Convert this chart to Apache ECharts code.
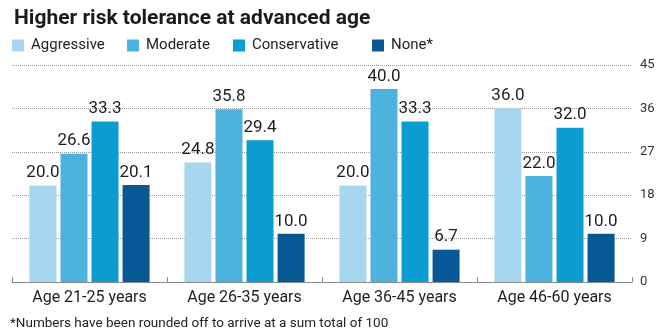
<!DOCTYPE html>
<html>
<head>
<meta charset="utf-8">
<script src="https://cdn.jsdelivr.net/npm/echarts@6/dist/echarts.min.js"></script>
<style>
  html, body { margin: 0; padding: 0; background: #ffffff; }
  #chart { width: 660px; height: 336px; }
</style>
</head>
<body>
<div id="chart"></div>
<script>
// Age groups along the x axis
const categories = ['Age 21-25 years', 'Age 26-35 years', 'Age 36-45 years', 'Age 46-60 years'];

// Share of respondents by risk appetite (%)
const aggressive   = [20.0, 24.8, 20.0, 36.0];
const moderate     = [26.6, 35.8, 40.0, 22.0];
const conservative = [33.3, 29.4, 33.3, 32.0];
const none         = [20.1, 10.0, 6.7, 10.0];

const seriesNames = ['Aggressive', 'Moderate', 'Conservative', 'None*'];
const yTicks = [0, 9, 18, 27, 36, 45];

const FONT = '"Roboto", sans-serif';
const colors = ['#a7d7ef', '#4eb2df', '#0b9dd1', '#075895'];
const values = [aggressive, moderate, conservative, none];
const legendLeft = [12, 127, 233, 372];

const chart = echarts.init(document.getElementById('chart'), null, { renderer: 'canvas' });

chart.setOption({
  animation: false,
  backgroundColor: '#ffffff',
  textStyle: { fontFamily: FONT },
  title: {
    text: 'Higher risk tolerance at advanced age',
    left: 9,
    top: 3,
    textStyle: { fontFamily: FONT, fontSize: 21, fontWeight: 'bold', color: '#1b1b1b' }
  },
  graphic: [{
    type: 'text',
    left: 10,
    top: 317,
    style: {
      text: '*Numbers have been rounded off to arrive at a sum total of 100',
      font: '13.5px ' + FONT,
      fill: '#222222'
    }
  }],
  // one legend block per series so each entry sits at its own offset
  legend: seriesNames.map((name, i) => ({
    left: legendLeft[i],
    top: 38,
    padding: 0,
    icon: 'rect',
    itemWidth: 12,
    itemHeight: 12,
    textStyle: { fontFamily: FONT, fontSize: 15, color: '#222222', padding: [0, 0, 0, 2] },
    data: [name]
  })),
  grid: { left: 12, right: 28, top: 65, bottom: 54 },
  xAxis: {
    type: 'category',
    data: categories,
    axisLine: { lineStyle: { color: '#8a8a8a', width: 1 } },
    axisTick: { show: true, inside: true, length: 5, lineStyle: { color: '#8a8a8a' } },
    axisLabel: { interval: 0, fontFamily: FONT, fontSize: 16, color: '#1e1e1e', margin: 8 }
  },
  yAxis: {
    type: 'value',
    position: 'right',
    min: 0,
    max: yTicks[yTicks.length - 1],
    interval: yTicks[1] - yTicks[0],
    axisLine: { show: false },
    axisTick: { show: false },
    axisLabel: { fontFamily: FONT, fontSize: 13, color: '#333333', margin: 8 },
    splitLine: { show: true, lineStyle: { color: '#9a9a9a', type: [1, 1], width: 1 } }
  },
  series: seriesNames.map((name, i) => ({
    name: name,
    type: 'bar',
    data: values[i],
    barWidth: 27,
    barGap: '15%',
    itemStyle: { color: colors[i] },
    label: {
      show: true,
      position: 'top',
      distance: 4,
      formatter: p => p.value.toFixed(1),
      fontFamily: FONT,
      fontSize: 17,
      color: '#1e1e1e'
    }
  }))
});
</script>
</body>
</html>
